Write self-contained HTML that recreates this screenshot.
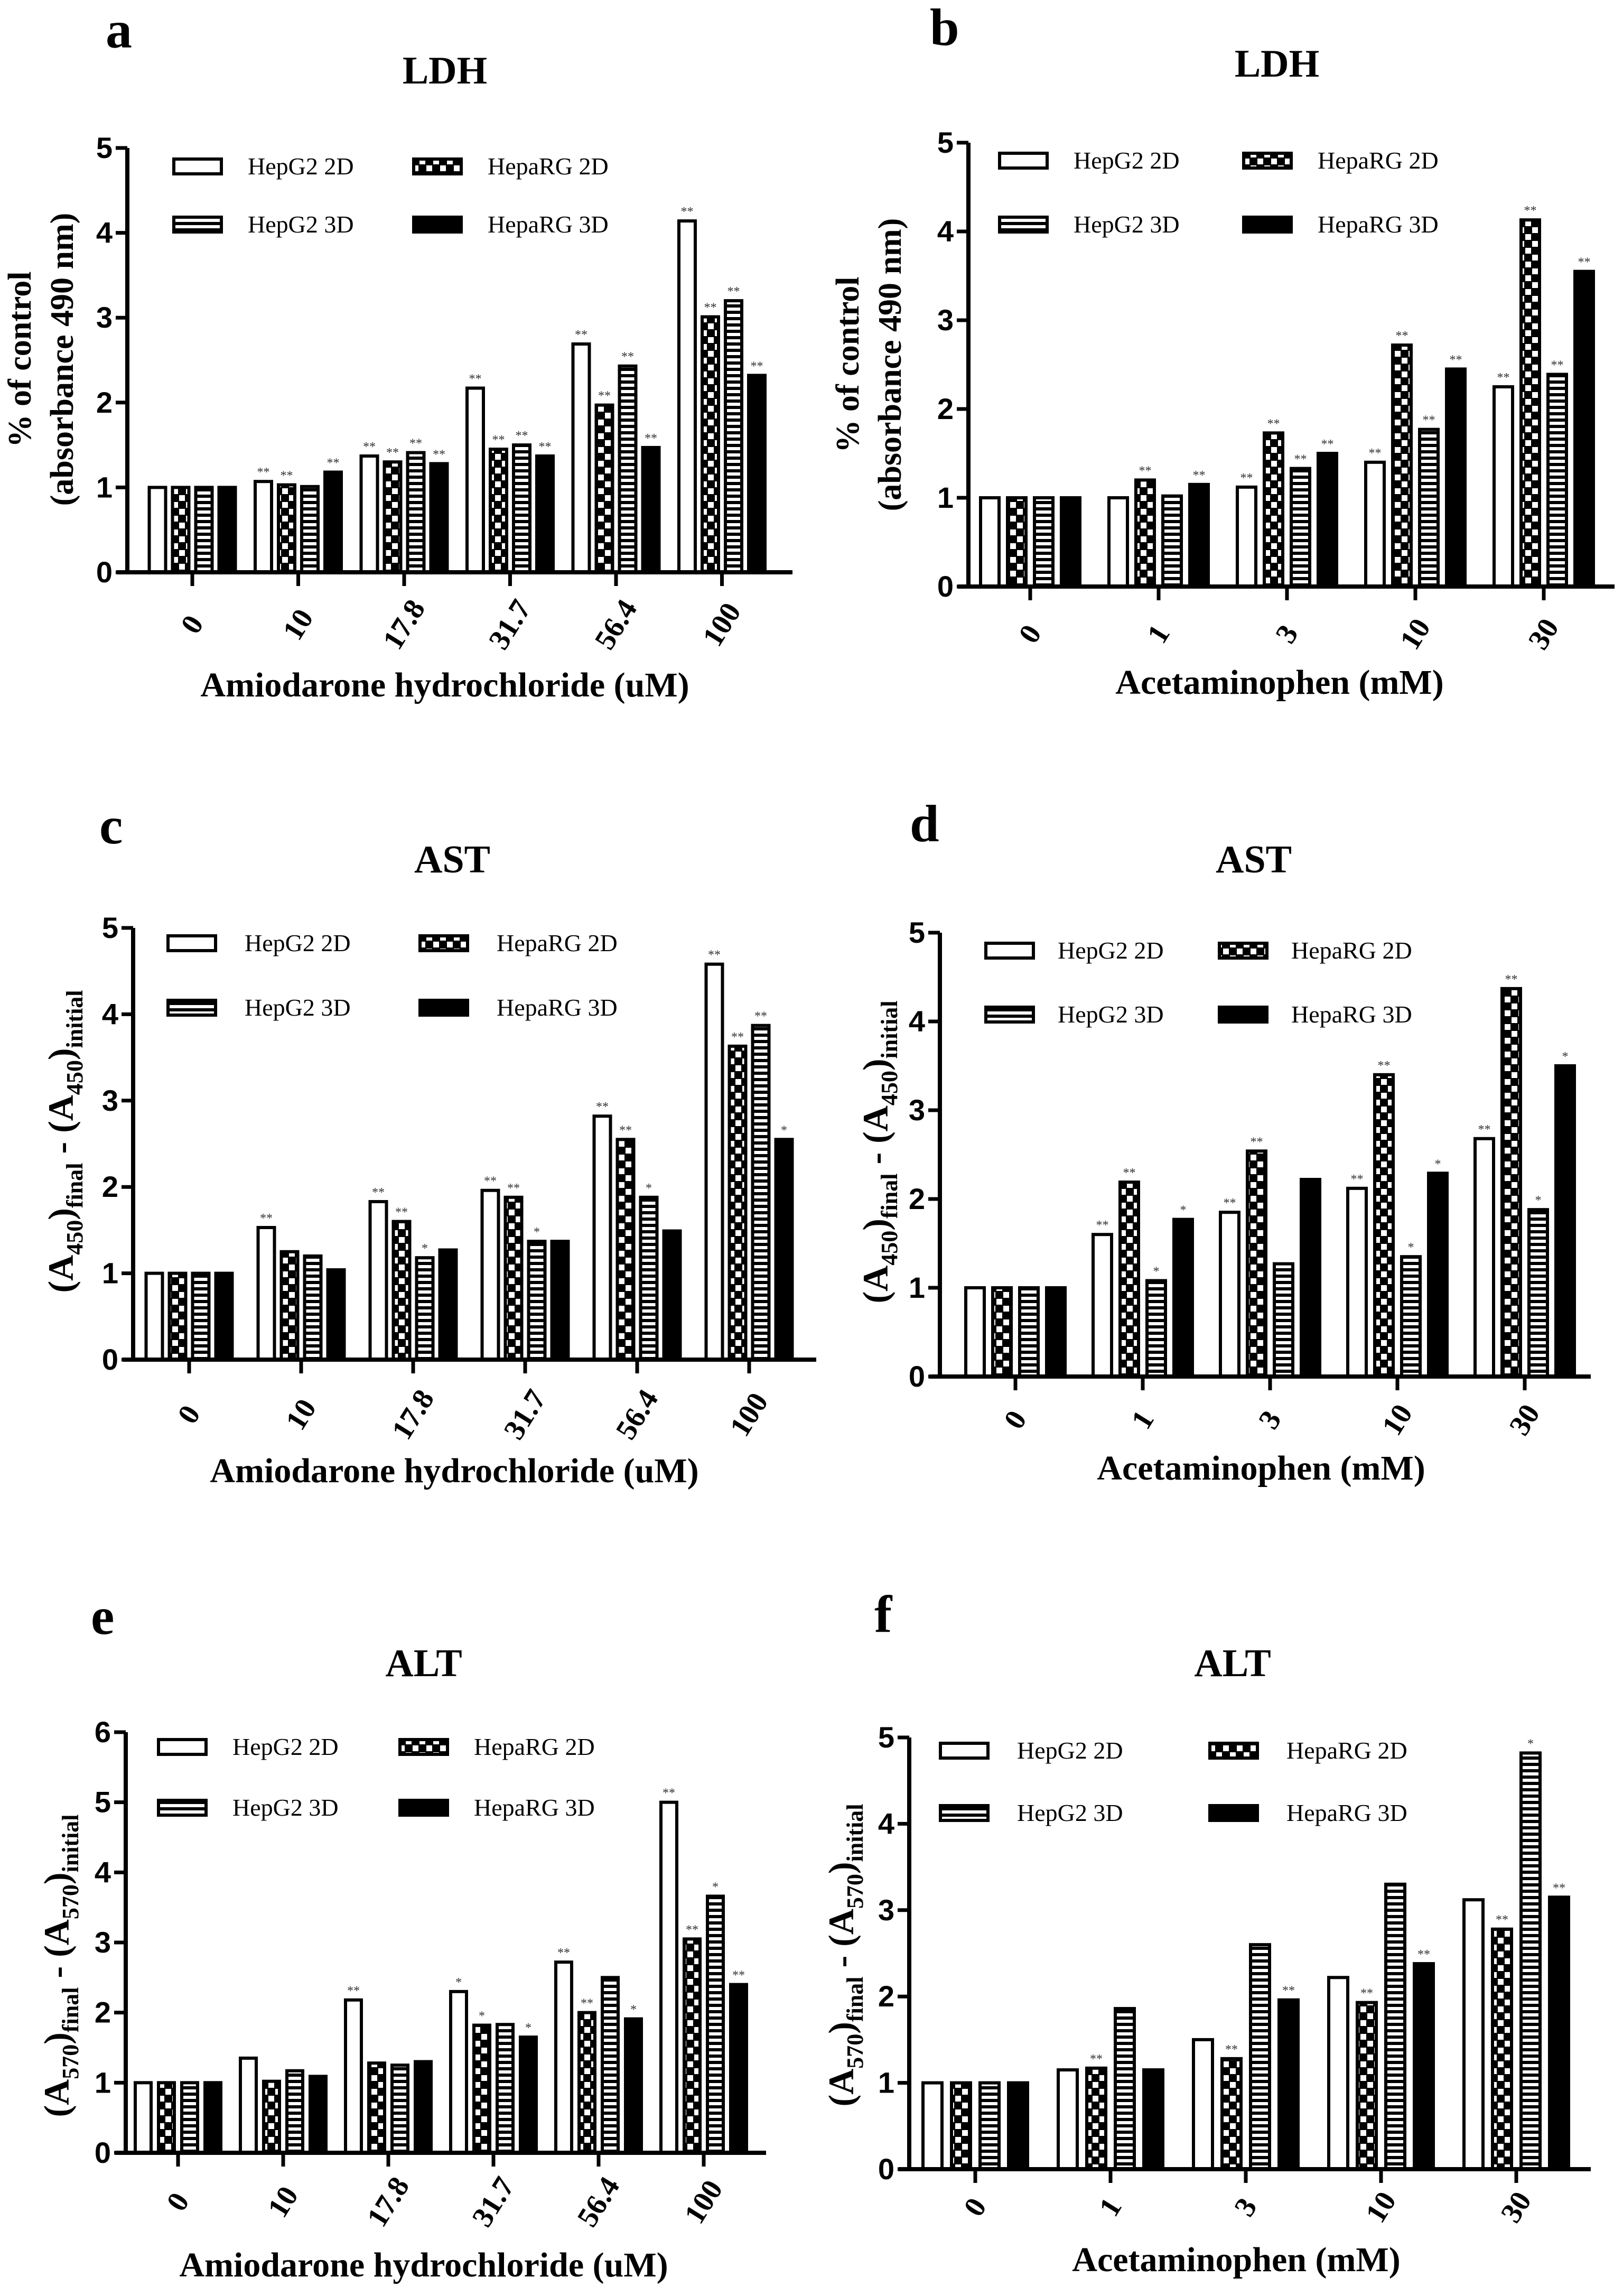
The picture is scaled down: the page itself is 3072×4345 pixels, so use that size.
<!DOCTYPE html>
<html><head><meta charset="utf-8"><style>
html,body{margin:0;padding:0;background:#fff;}
svg{display:block;}
text{font-family:"Liberation Serif",serif;}
.num{font-family:"Liberation Sans",sans-serif;font-weight:bold;}
</style></head><body>
<svg id="fig" xmlns="http://www.w3.org/2000/svg" width="3072" height="4345" viewBox="0 0 3072 4345">
<defs>
<pattern id="chk" width="26" height="26" patternUnits="userSpaceOnUse"><rect width="26" height="26" fill="#000"/><rect width="11" height="11" x="1" y="1" fill="#fff"/><rect x="14" y="14" width="11" height="11" fill="#fff"/></pattern>
<pattern id="hst" width="10" height="12" patternUnits="userSpaceOnUse"><rect width="10" height="12" fill="#fff"/><rect y="0" width="10" height="6" fill="#000"/></pattern>
</defs>
</svg>
<script>
const catsAmio = ["0","10","17.8","31.7","56.4","100"];
const catsAcet = ["0","1","3","10","30"];
const seriesNames = ["HepG2 2D","HepaRG 2D","HepG2 3D","HepaRG 3D"];
const a_hepg2_2d = [1,1.07,1.37,2.17,2.69,4.14];
const a_heparg_2d = [1,1.03,1.30,1.45,1.97,3.01];
const a_hepg2_3d = [1,1.01,1.41,1.50,2.43,3.20];
const a_heparg_3d = [1,1.18,1.28,1.37,1.47,2.32];
const a_stars = [["","","",""],["**","**","","**"],["**","**","**","**"],["**","**","**","**"],["**","**","**","**"],["**","**","**","**"]];
const b_hepg2_2d = [1,1.00,1.12,1.40,2.25];
const b_heparg_2d = [1,1.20,1.73,2.72,4.13];
const b_hepg2_3d = [1,1.02,1.33,1.77,2.39];
const b_heparg_3d = [1,1.15,1.50,2.45,3.55];
const b_stars = [["","","",""],["","**","","**"],["**","**","**","**"],["**","**","**","**"],["**","**","**","**"]];
const c_hepg2_2d = [1,1.53,1.83,1.96,2.82,4.58];
const c_heparg_2d = [1,1.25,1.60,1.88,2.55,3.63];
const c_hepg2_3d = [1,1.20,1.18,1.37,1.88,3.87];
const c_heparg_3d = [1,1.04,1.27,1.37,1.49,2.55];
const c_stars = [["","","",""],["**","","",""],["**","**","*",""],["**","**","*",""],["**","**","*",""],["**","**","**","*"]];
const d_hepg2_2d = [1,1.60,1.85,2.12,2.68];
const d_heparg_2d = [1,2.19,2.54,3.40,4.37];
const d_hepg2_3d = [1,1.08,1.27,1.35,1.88];
const d_heparg_3d = [1,1.77,2.22,2.29,3.50];
const d_stars = [["","","",""],["**","**","*","*"],["**","**","",""],["**","**","*","*"],["**","**","*","*"]];
const e_hepg2_2d = [1,1.35,2.18,2.30,2.72,5.00];
const e_heparg_2d = [1,1.02,1.28,1.82,2.00,3.05];
const e_hepg2_3d = [1,1.17,1.25,1.83,2.50,3.66];
const e_heparg_3d = [1,1.09,1.30,1.65,1.91,2.40];
const e_stars = [["","","",""],["","","",""],["**","","",""],["*","*","","*"],["**","**","","*"],["**","**","*","**"]];
const f_hepg2_2d = [1,1.15,1.50,2.22,3.12];
const f_heparg_2d = [1,1.17,1.28,1.93,2.78];
const f_hepg2_3d = [1,1.86,2.60,3.30,4.82];
const f_heparg_3d = [1,1.15,1.96,2.38,3.15];
const f_stars = [["","","",""],["","**","",""],["","**","","**"],["","**","","**"],["","**","*","**"]];
const yTicks5 = [0,1,2,3,4,5];
const yTicks6 = [0,1,2,3,4,5,6];

const NS="http://www.w3.org/2000/svg";
const svg=document.getElementById('fig');
const fills=["#fff","url(#chk)","url(#hst)","#000"];
function el(tag,attrs,parent,txt){const e=document.createElementNS(NS,tag);for(const k in attrs)e.setAttribute(k,attrs[k]);if(txt!==undefined)e.textContent=txt;(parent||svg).appendChild(e);return e;}

function panel(p){
  const g=el('g',{});
  
  
  const ys=v=>p.y0-(p.y0-p.yTop)*v/p.ymax;
  const L=el('text',{x:p.letter[0],y:p.letter[1],'font-size':100,'font-weight':'bold'},g,p.id);
  
  
  const T=el('text',{x:p.title[0],y:p.title[1],'font-size':74,'font-weight':'bold','text-anchor':'middle'},g,p.titleText);
  
  
  for(let s=0;s<4;s++){
    for(let i=0;i<p.cats.length;i++){
      const v=p.series[s][i];
      const cx=p.gx0+p.gdx*i+(s-1.5)*p.pitch;
      const r=el('rect',{x:cx-p.bw/2,y:ys(v),width:p.bw,height:p.y0-ys(v),fill:fills[s],stroke:'#000','stroke-width':6},g);
      
      
      const st=p.stars[i][s];
      if(st){const t=el('text',{x:cx,y:ys(v)-10,'font-size':24,'text-anchor':'middle',fill:'#333'},g,st);
        
        }
    }
  }
  const ya=el('line',{x1:p.ax,y1:p.y0+4,x2:p.ax,y2:p.yTop,stroke:'#000','stroke-width':8},g);
  
  
  const xa=el('line',{x1:p.ax-20,y1:p.y0,x2:p.xEnd,y2:p.y0,stroke:'#000','stroke-width':8},g);
  
  
  p.yt.forEach(v=>{
    el('line',{x1:p.ax-22,y1:ys(v),x2:p.ax,y2:ys(v),stroke:'#000','stroke-width':7},g);
    const t=el('text',{x:p.ax-28,y:ys(v)+19,'font-size':56,'text-anchor':'end',class:'num'},g,String(v));
    
    
  });
  p.cats.forEach((c,i)=>{
    const x=p.gx0+p.gdx*i;
    el('line',{x1:x,y1:p.y0,x2:x,y2:p.y0+26,stroke:'#000','stroke-width':7},g);
    const ty=p.tickY;
    const t=el('text',{x:x,y:ty,'font-size':56,'font-weight':'bold','text-anchor':'middle',transform:`rotate(-58 ${x} ${ty-18})`},g,c);
    
    
  });
  const xl=el('text',{x:p.xlab[0],y:p.xlab[1],'font-size':66,'font-weight':'bold','text-anchor':'middle'},g,p.xlabText);
  
  
  const yg=el('g',{transform:`translate(${p.ylab[0]},${p.ylab[1]}) rotate(-90)`},g);
  
  
  if(p.ylabType==='ldh'){
    el('text',{x:0,y:0,'font-size':62,'font-weight':'bold','text-anchor':'middle'},yg,'% of control');
    el('text',{x:0,y:80,'font-size':62,'font-weight':'bold','text-anchor':'middle'},yg,'(absorbance 490 nm)');
  } else {
    const t=el('text',{x:0,y:0,'font-size':68,'font-weight':'bold','text-anchor':'middle'},yg);
    const parts=[['(A',0,68],[p.wl,18,44],[')',-18,68],['final',18,44],[' - (A',-18,68],[p.wl,18,44],[')',-18,68],['initial',18,44]];
    parts.forEach(q=>{el('tspan',{dy:q[1],'font-size':q[2]},t,q[0]);});
  }
  const lg=el('g',{},g);
  
  
  [0,1,2,3].forEach(s=>{
    const col=(s===0||s===2)?0:1;const row=s<2?0:1;
    const bx=p.leg.x[col], by=p.leg.y[row];
    const ent=el('g',{},lg);
    
    
    el('rect',{x:bx,y:by-14,width:90,height:28,fill:fills[s],stroke:'#000','stroke-width':6},ent);
    el('text',{x:bx+p.leg.tx,y:by+15,'font-size':46},ent,seriesNames[s]);
  });
}

panel({id:'a',titleText:'LDH',cats:catsAmio,series:[a_hepg2_2d,a_heparg_2d,a_hepg2_3d,a_heparg_3d],stars:a_stars,
  ax:241,y0:1083,yTop:280,ymax:5,yt:yTicks5,xEnd:1500,gx0:364,gdx:200.5,pitch:44,bw:31,
  letter:[200,90],title:[842,158],tickY:1200,xlab:[842,1318],xlabText:'Amiodarone hydrochloride (uM)',
  ylab:[58,680],ylabType:'ldh',leg:{x:[329,783],y:[315,425],tx:140}});
panel({id:'b',titleText:'LDH',cats:catsAcet,series:[b_hepg2_2d,b_heparg_2d,b_hepg2_3d,b_heparg_3d],stars:b_stars,
  ax:1833,y0:1110,yTop:270,ymax:5,yt:yTicks5,xEnd:3056,gx0:1950,gdx:243,pitch:51,bw:35,
  letter:[1760,85],title:[2417,145],tickY:1218,xlab:[2422,1313],xlabText:'Acetaminophen (mM)',
  ylab:[1625,690],ylabType:'ldh',leg:{x:[1892,2354],y:[304,425],tx:140}});
panel({id:'c',titleText:'AST',cats:catsAmio,series:[c_hepg2_2d,c_heparg_2d,c_hepg2_3d,c_heparg_3d],stars:c_stars,
  ax:252,y0:2573,yTop:1756,ymax:5,yt:yTicks5,xEnd:1545,gx0:358,gdx:212,pitch:44,bw:31,
  letter:[188,1596],title:[856,1651],tickY:2695,xlab:[860,2805],xlabText:'Amiodarone hydrochloride (uM)',
  ylab:[138,2160],ylabType:'enz',wl:'450',leg:{x:[318,795],y:[1785,1907],tx:145}});
panel({id:'d',titleText:'AST',cats:catsAcet,series:[d_hepg2_2d,d_heparg_2d,d_hepg2_3d,d_heparg_3d],stars:d_stars,
  ax:1779,y0:2605,yTop:1765,ymax:5,yt:yTicks5,xEnd:3011,gx0:1922,gdx:241,pitch:51,bw:35,
  letter:[1722,1592],title:[2373,1651],tickY:2705,xlab:[2387,2800],xlabText:'Acetaminophen (mM)',
  ylab:[1680,2180],ylabType:'enz',wl:'450',leg:{x:[1866,2308],y:[1799,1920],tx:136}});
panel({id:'e',titleText:'ALT',cats:catsAmio,series:[e_hepg2_2d,e_heparg_2d,e_hepg2_3d,e_heparg_3d],stars:e_stars,
  ax:238,y0:4074,yTop:3278,ymax:6,yt:yTicks6,xEnd:1450,gx0:337,gdx:199,pitch:44,bw:30,
  letter:[172,3092],title:[802,3172],tickY:4185,xlab:[802,4308],xlabText:'Amiodarone hydrochloride (uM)',
  ylab:[130,3720],ylabType:'enz',wl:'570',leg:{x:[300,757],y:[3306,3421],tx:140}});
panel({id:'f',titleText:'ALT',cats:catsAcet,series:[f_hepg2_2d,f_heparg_2d,f_hepg2_3d,f_heparg_3d],stars:f_stars,
  ax:1721,y0:4105,yTop:3288,ymax:5,yt:yTicks5,xEnd:3011,gx0:1846,gdx:256,pitch:54,bw:36,
  letter:[1655,3088],title:[2333,3172],tickY:4195,xlab:[2340,4298],xlabText:'Acetaminophen (mM)',
  ylab:[1615,3700],ylabType:'enz',wl:'570',leg:{x:[1780,2290],y:[3313,3431],tx:145}});
</script>
</body></html>
